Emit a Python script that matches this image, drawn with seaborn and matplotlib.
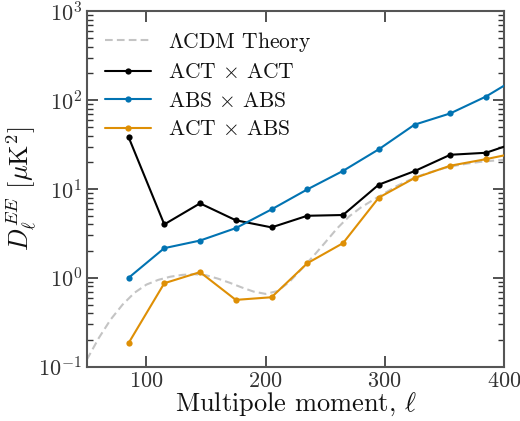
import numpy as np
import pandas as pd
import matplotlib
matplotlib.use("Agg")
import matplotlib.pyplot as plt
import seaborn as sns
from matplotlib.ticker import LogLocator, FixedLocator, NullLocator

# ---- data ----
ell_bins = [85, 115, 145, 175, 205, 235, 265, 295, 325, 355, 385, 415]
act_act = [38.5, 4.0, 6.9, 4.45, 3.7, 5.0, 5.1, 11.2, 15.9, 24.3, 25.6, 35.0]
abs_abs = [1.0, 2.16, 2.63, 3.63, 5.9, 9.9, 16.0, 28.0, 53.0, 71.0, 110.0, 192.0]
act_abs = [0.184, 0.87, 1.16, 0.565, 0.605, 1.46, 2.46, 8.0, 13.3, 18.3, 21.7, 26.3]

theory_ell = [50, 60, 70, 80, 90, 100, 110, 120, 130, 140, 150, 160, 170, 180,
              190, 200, 210, 220, 230, 240, 250, 260, 270, 280, 290, 300, 310,
              320, 330, 340, 350, 360, 370, 380, 390, 400]
theory_dl = [0.12, 0.21, 0.34, 0.50, 0.68, 0.84, 0.95, 1.03, 1.08, 1.10, 1.07,
             0.98, 0.88, 0.78, 0.70, 0.66, 0.71, 0.90, 1.25, 1.75, 2.5, 3.6,
             4.9, 6.2, 7.5, 9.0, 10.8, 12.5, 14.2, 15.7, 17.2, 18.4, 19.4,
             20.2, 20.8, 21.3]

labels = [r"$\Lambda$CDM Theory", r"ACT $\times$ ACT", r"ABS $\times$ ABS", r"ACT $\times$ ABS"]
xticks = [100, 200, 300, 400]

# ---- style ----
sns.set_style("ticks")
plt.rcParams["font.family"] = ["serif"]
plt.rcParams["font.serif"] = ["cmr10", "DejaVu Serif"]
plt.rcParams["mathtext.fontset"] = "cm"
plt.rcParams["axes.formatter.use_mathtext"] = True
plt.rcParams["axes.unicode_minus"] = False

pal = sns.color_palette("colorblind")
c_blue = pal[0]
c_orange = pal[1]

fig = plt.figure(figsize=(5.2, 4.21), dpi=100)
ax = fig.add_axes([0.167, 0.129, 0.802, 0.844])

th = pd.DataFrame({"ell": theory_ell, "dl": theory_dl})
sns.lineplot(data=th, x="ell", y="dl", ax=ax, color="#c4c4c4", lw=1.5,
             linestyle=(0, (3.7, 2.0)), label=labels[0], zorder=1)

for vals, col, lab in [(act_act, "black", labels[1]), (abs_abs, c_blue, labels[2]),
                       (act_abs, c_orange, labels[3])]:
    df = pd.DataFrame({"ell": ell_bins, "dl": vals})
    sns.lineplot(data=df, x="ell", y="dl", ax=ax, color=col, lw=1.5,
                 marker="o", markersize=4.5, markeredgewidth=0, label=lab, zorder=3)

ax.set_yscale("log")
ax.set_xlim(50, 400)
ax.set_ylim(0.1, 1000)
ax.xaxis.set_major_locator(FixedLocator(xticks))
ax.xaxis.set_minor_locator(NullLocator())
ax.yaxis.set_major_locator(LogLocator(base=10, numticks=10))
ax.yaxis.set_minor_locator(LogLocator(base=10, subs=np.arange(2, 10), numticks=10))

ax.tick_params(which="both", direction="in", top=True, right=True, colors="#333333",
               labelcolor="#333333")
ax.tick_params(which="major", length=8, width=1.2, labelsize=16, pad=3.5)
ax.tick_params(which="minor", length=4, width=1.0)
for s in ax.spines.values():
    s.set_color("#555555")
    s.set_linewidth(1.5)

ax.set_xlabel(r"Multipole moment, $\ell$", fontsize=19, color="#111111", labelpad=0)
ax.set_ylabel(r"$D_\ell^{EE}$ [$\mu$K$^2$]", fontsize=19, color="#111111", labelpad=0)

leg = ax.legend(loc="upper left", frameon=False, fontsize=15.5, handlelength=2.14,
                borderaxespad=0.45, labelspacing=0.42, handletextpad=0.8)
for t in leg.get_texts():
    t.set_color("#111111")

fig.savefig("out.png", dpi=100)
